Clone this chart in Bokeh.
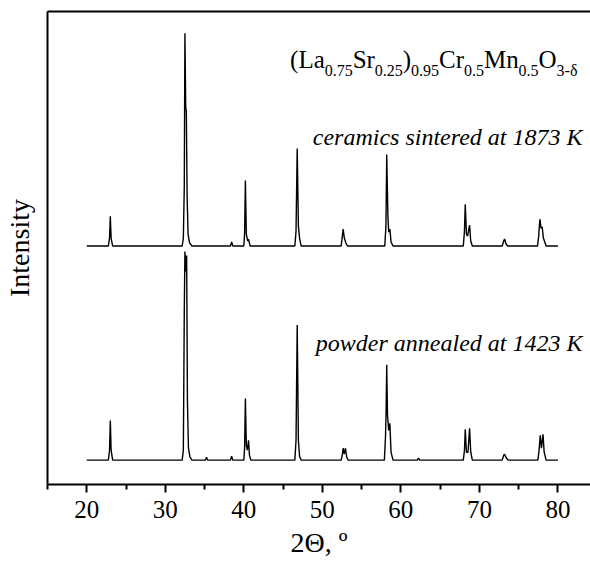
from bokeh.plotting import figure
from bokeh.models import Label, LinearAxis, FixedTicker, Range1d
from bokeh.embed import file_html
from bokeh.resources import INLINE

# ---- data (2Theta in degrees, intensity above background, arb. units)
ceramics_x = [20.0, 22.75, 22.9, 23.0, 23.1, 23.3,
              32.15, 32.3, 32.42, 32.5, 32.6, 32.68, 32.78, 32.9, 33.1, 33.4,
              38.3, 38.45, 38.6,
              40.0, 40.1, 40.2, 40.32, 40.5, 40.6, 40.8,
              46.5, 46.65, 46.8, 46.95, 47.1, 47.3,
              52.4, 52.55, 52.65, 52.8, 53.0, 53.2,
              57.95, 58.1, 58.2, 58.35, 58.45, 58.6, 58.75, 59.0,
              67.95, 68.1, 68.2, 68.35, 68.5, 68.75, 68.9, 69.1,
              72.9, 73.1, 73.2, 73.4, 73.6,
              77.4, 77.55, 77.7, 77.85, 78.0, 78.15, 78.5, 80.0]
ceramics_y = [0, 0, 8, 30, 8, 0,
              0, 8, 60, 214, 140, 135, 50, 12, 3, 0,
              0, 4, 0,
              0, 12, 66, 12, 5, 7, 0,
              0, 15, 98, 20, 8, 0,
              0, 10, 17, 8, 3, 0,
              0, 20, 92, 30, 14, 17, 4, 0,
              0, 15, 42, 12, 10, 21, 5, 0,
              0, 5, 7, 2, 0,
              0, 10, 27, 18, 19, 8, 0, 0]

powder_x = [20.0, 22.75, 22.9, 23.0, 23.1, 23.3,
            32.15, 32.3, 32.42, 32.5, 32.6, 32.72, 32.82, 32.95, 33.15, 33.4,
            35.1, 35.25, 35.4,
            38.3, 38.45, 38.6,
            40.0, 40.1, 40.2, 40.32, 40.45, 40.6, 40.72, 40.9,
            46.5, 46.65, 46.8, 46.95, 47.1, 47.3,
            52.4, 52.55, 52.65, 52.78, 52.95, 53.1, 53.3,
            57.9, 58.05, 58.12, 58.2, 58.3, 58.45, 58.6, 58.75, 59.0,
            62.1, 62.25, 62.4,
            67.95, 68.1, 68.2, 68.35, 68.55, 68.75, 68.9, 69.1,
            72.9, 73.1, 73.2, 73.45, 73.7,
            77.45, 77.6, 77.75, 77.9, 78.1, 78.25, 78.5, 80.0]
powder_y = [0, 0, 10, 40, 10, 0,
            0, 10, 150, 210, 190, 206, 60, 12, 3, 0,
            0, 3, 0,
            0, 4, 0,
            0, 12, 62, 15, 10, 20, 5, 0,
            0, 20, 136, 20, 4, 0,
            0, 6, 12, 6, 12, 3, 0,
            0, 25, 49, 96, 45, 30, 37, 8, 0,
            0, 2, 0,
            0, 10, 31, 8, 8, 32, 8, 0,
            0, 5, 6, 2, 0,
            0, 10, 25, 12, 26, 8, 0, 0]

ceramics_offset = 240
powder_offset = 24.5

major_ticks = [20, 30, 40, 50, 60, 70, 80]
minor_ticks = [15, 25, 35, 45, 55, 65, 75, 85]

x_title = "2\u0398, \u00ba"
y_title = "Intensity"
ceramics_label = "ceramics sintered at 1873 K"
powder_label = "powder annealed at 1423 K"
formula_parts = [("(La", False), ("0.75", True), ("Sr", False), ("0.25", True),
                 (")", False), ("0.95", True), ("Cr", False), ("0.5", True),
                 ("Mn", False), ("0.5", True), ("O", False), ("3-\u03b4", True)]

FONT = "Liberation Serif"
LEFT, TOP, W, H, BOTTOM_PX = 46, 11, 590, 560, 487
PXU = 7.867                      # pixels per degree
X0 = 15
X1 = X0 + (W - LEFT) / PXU
TEXT_RIGHT = X0 + (582 - LEFT) / PXU

p = figure(width=W, height=H, output_backend="svg", toolbar_location=None,
           x_range=Range1d(X0, X1), y_range=Range1d(0, BOTTOM_PX - TOP),
           min_border_left=LEFT, min_border_right=0, min_border_top=TOP,
           min_border_bottom=H - BOTTOM_PX, background_fill_color="white",
           border_fill_color="white", outline_line_color=None)
p.grid.visible = False

xa = p.xaxis[0]
xa.ticker = FixedTicker(ticks=major_ticks, minor_ticks=minor_ticks)
xa.axis_line_width = 2
xa.major_tick_in = 0
xa.major_tick_out = 8
xa.minor_tick_in = 0
xa.minor_tick_out = 5
xa.major_tick_line_width = 2
xa.minor_tick_line_width = 2
xa.major_label_text_font = FONT
xa.major_label_text_font_size = "25px"
xa.major_label_text_color = "black"
xa.major_label_standoff = 8
xa.axis_label = x_title
xa.axis_label_text_font = FONT
xa.axis_label_text_font_size = "28px"
xa.axis_label_text_font_style = "normal"
xa.axis_label_text_color = "black"
xa.axis_label_standoff = 6

ya = p.yaxis[0]
ya.ticker = FixedTicker(ticks=[])
ya.axis_line_width = 2
ya.major_tick_out = 0
ya.minor_tick_out = 0
ya.axis_label = y_title
ya.axis_label_text_font = FONT
ya.axis_label_text_font_size = "28px"
ya.axis_label_text_font_style = "normal"
ya.axis_label_text_color = "black"
ya.axis_label_standoff = 13

top = LinearAxis(ticker=FixedTicker(ticks=[]), axis_line_width=2, major_tick_out=0,
                 minor_tick_out=0, major_label_standoff=0)
p.add_layout(top, "above")

p.line(ceramics_x, [v + ceramics_offset for v in ceramics_y], line_color="black", line_width=1.4)
p.line(powder_x, [v + powder_offset for v in powder_y], line_color="black", line_width=1.4)

# sample labels
p.add_layout(Label(x=TEXT_RIGHT, y=350, text=ceramics_label, text_font=FONT, text_font_size="24px",
                   text_font_style="italic", text_align="right", text_baseline="alphabetic",
                   text_color="black"))
p.add_layout(Label(x=TEXT_RIGHT, y=142, text=powder_label, text_font=FONT, text_font_size="24px",
                   text_font_style="italic", text_align="right", text_baseline="alphabetic",
                   text_color="black"))

# chemical formula with subscripts (Times metrics, em units)
adv = {"(": .333, ")": .333, "L": .611, "a": .444, "S": .556, "r": .333, "C": .667,
       "M": .889, "n": .5, "O": .722, ".": .25, "-": .333, "\u03b4": .5}
for d in "0123456789":
    adv[d] = .5
MAIN, SUB = 25, 16
xpos = X0 + (289 - LEFT) / PXU
for txt, sub in formula_parts:
    fs = SUB if sub else MAIN
    p.add_layout(Label(x=xpos, y=(BOTTOM_PX - 70) if sub else (BOTTOM_PX - 59), text=txt,
                       text_font=FONT, text_font_size=f"{fs}px", text_align="left",
                       text_baseline="alphabetic", text_color="black"))
    xpos += sum(adv[c] for c in txt) * fs / PXU

open("out.html", "w").write(file_html(p, INLINE))
